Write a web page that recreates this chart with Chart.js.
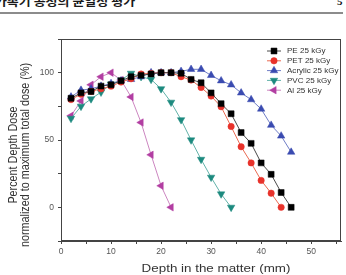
<!DOCTYPE html>
<html>
<head>
<meta charset="utf-8">
<script src="https://cdn.jsdelivr.net/npm/chart.js@4.4.0/dist/chart.umd.min.js"></script>
<style>
html, body { margin: 0; padding: 0; background: #fff; overflow: hidden; }
#wrap { position: relative; width: 346px; height: 275px; overflow: hidden; }
#hdr { position: absolute; left: -29px; top: -4px; font: bold 11px/11px "Noto Sans CJK KR"; white-space: nowrap; color: #1a1a1a; transform: scaleX(1.18); transform-origin: left top; }
#pg { position: absolute; left: 337px; top: -4px; font: bold 11px/11px "Liberation Serif"; color: #1a1a1a; }
#rule { position: absolute; left: 0; top: 12px; width: 343px; height: 2px; background: #8c8c8c; }
canvas { position: absolute; left: 0; top: 0; }
</style>
</head>
<body>
<div id="wrap">
  <div id="hdr">전자가속기 공정의 균일성 평가</div>
  <div id="pg">5</div>
  <div id="rule"></div>
  <canvas id="chart-canvas" width="346" height="275"></canvas>
</div>
<script>
// Depth positions (mm), shared by every series
const depth = [2, 4, 6, 8, 10, 12, 14, 16, 18, 20, 22, 24, 26, 28, 30, 32, 34, 36, 38, 40, 42, 44, 46];

// Percent depth dose
const pe      = [81, 85, 86, 90, 91, 94, 97, 98, 99, 100, 100, 99.5, 95, 92.5, 85, 77, 69.5, 55.5, 47.5, 33, 24.5, 11, 0];
const pet     = [80, 84, 86, 88, 90, 93, 95.5, 99, 99.5, 100, 100, 97, 94.5, 89, 82.6, 74.7, 60, 45, 33, 20, 10.5, 0];
const acrylic = [82, 87, 88, 90, 92, 94, 95, 97, 100, 100, 100, 101, 102.5, 102.5, 98, 94, 91, 85, 80, 73, 61, 53, 41];
const pvc     = [66, 75, 80.5, 85.5, 91.5, 94.5, 99.5, 97, 95, 88, 78, 65, 50, 35.6, 22.3, 9.9, 0];
const al      = [68, 79, 91, 97, 100, 94.5, 82, 63, 39, 16, 0];

const seriesNames = ["PE 25 kGy", "PET 25 kGy", "Acrylic 25 kGy", "PVC 25 kGy", "Al 25 kGy"];
const xTicks = [0, 5, 10, 15, 20, 25, 30, 35, 40, 45, 50, 55];
const yTicks = [-25, 0, 25, 50, 75, 100, 125];

const styles = [
    { marker: "#000000", line: "#4a4a4a", pointStyle: "rect", radius: 4.2, rotation: 0 },
    { marker: "#e8322b", line: "#ea6a52", pointStyle: "circle", radius: 3.2, rotation: 0 },
    { marker: "#3a4bb0", line: "#6f7dc6", pointStyle: "triangle", radius: 4.3, rotation: 0 },
    { marker: "#1d8a7f", line: "#62b2a9", pointStyle: "triangle", radius: 4.3, rotation: 180 },
    { marker: "#b23ea2", line: "#cc86c0", pointStyle: "triangle", radius: 4.3, rotation: 270 }
];

const values = [pe, pet, acrylic, pvc, al];

const datasets = values.map((vals, i) => ({
    label: seriesNames[i],
    data: vals.map((v, k) => ({ x: depth[k], y: v })),
    showLine: true,
    borderColor: styles[i].line,
    borderWidth: 1,
    pointStyle: styles[i].pointStyle,
    pointRadius: styles[i].radius,
    pointRotation: styles[i].rotation,
    pointBackgroundColor: styles[i].marker,
    pointBorderColor: styles[i].marker,
    pointBorderWidth: 0.5
}));

// box round the plot area
const framePlugin = {
    id: "frame",
    beforeDatasetsDraw(chart) {
        const a = chart.chartArea;
        const ctx = chart.ctx;
        ctx.save();
        ctx.strokeStyle = "#444";
        ctx.lineWidth = 1;
        ctx.strokeRect(Math.round(a.left) + 0.5, Math.round(a.top) + 0.5,
            Math.round(a.right - a.left) - 1, Math.round(a.bottom - a.top) - 1);
        ctx.restore();
    }
};

function drawMarker(ctx, st, x, y) {
    ctx.fillStyle = st.marker;
    ctx.strokeStyle = st.marker;
    ctx.lineWidth = 0.5;
    Chart.helpers.drawPoint(ctx, { pointStyle: st.pointStyle, radius: st.radius, rotation: st.rotation, borderWidth: 0.5 }, x, y);
}

// legend in the upper right of the plot
const legendPlugin = {
    id: "innerLegend",
    afterDraw(chart) {
        const ctx = chart.ctx;
        const rows = [51, 60.8, 70.6, 80.4, 90.2];
        ctx.save();
        seriesNames.forEach((name, i) => {
            const y = rows[i];
            ctx.strokeStyle = styles[i].line;
            ctx.lineWidth = 1;
            ctx.beginPath();
            ctx.moveTo(267, y);
            ctx.lineTo(281, y);
            ctx.stroke();
            drawMarker(ctx, styles[i], 274, y);
            ctx.save();
            ctx.translate(287, y);
            ctx.scale(1.15, 1);
            ctx.fillStyle = "#333";
            ctx.font = "7px 'Liberation Sans'";
            ctx.textBaseline = "middle";
            ctx.fillText(name, 0, 0.5);
            ctx.restore();
        });
        ctx.restore();
    }
};

// axis titles
const titlePlugin = {
    id: "axisTitles",
    afterDraw(chart) {
        const ctx = chart.ctx;
        ctx.save();
        ctx.fillStyle = "#333";
        ctx.font = "10.8px 'Liberation Sans'";
        ctx.textAlign = "center";
        ctx.textBaseline = "alphabetic";
        ctx.save();
        ctx.translate(216, 272);
        ctx.scale(1.24, 1);
        ctx.fillText("Depth in the matter (mm)", 0, 0);
        ctx.restore();

        ctx.textBaseline = "middle";
        ctx.save();
        ctx.translate(13, 155);
        ctx.scale(1.2, 1);
        ctx.rotate(-Math.PI / 2);
        ctx.fillText("Percent Depth Dose", 0, 0);
        ctx.restore();
        ctx.save();
        ctx.translate(25.5, 155);
        ctx.scale(1.2, 1);
        ctx.rotate(-Math.PI / 2);
        ctx.fillText("normalized to maximum total dose (%)", 0, 0);
        ctx.restore();
        ctx.restore();
    }
};

const tickFont = { family: "Liberation Sans", size: 8.5 };

new Chart(document.getElementById("chart-canvas").getContext("2d"), {
    type: "scatter",
    data: { datasets: datasets },
    options: {
        responsive: false,
        animation: false,
        layout: { padding: { top: 39, right: 3, left: 0, bottom: 0 } },
        plugins: {
            legend: { display: false },
            tooltip: { enabled: false }
        },
        scales: {
            x: {
                type: "linear",
                min: 0,
                max: 56,
                afterBuildTicks: s => { s.ticks = xTicks.map(v => ({ value: v })); },
                afterFit: s => { s.height = 34; },
                ticks: {
                    autoSkip: false,
                    maxRotation: 0,
                    padding: 3,
                    color: "#555",
                    font: tickFont,
                    callback: v => (v % 10 === 0 ? v : "")
                },
                grid: { drawOnChartArea: false, tickLength: 3, color: "#444" },
                border: { color: "#444", width: 1 }
            },
            y: {
                type: "linear",
                min: -25,
                max: 125,
                afterBuildTicks: s => { s.ticks = yTicks.map(v => ({ value: v })); },
                afterFit: s => { s.width = 61; },
                ticks: {
                    autoSkip: false,
                    padding: 4,
                    color: "#555",
                    font: tickFont,
                    callback: v => (v % 50 === 0 && v >= 0 ? v : "")
                },
                grid: { drawOnChartArea: false, tickLength: 3, color: "#444" },
                border: { color: "#444", width: 1 }
            }
        }
    },
    plugins: [framePlugin, legendPlugin, titlePlugin]
});
</script>
</body>
</html>
